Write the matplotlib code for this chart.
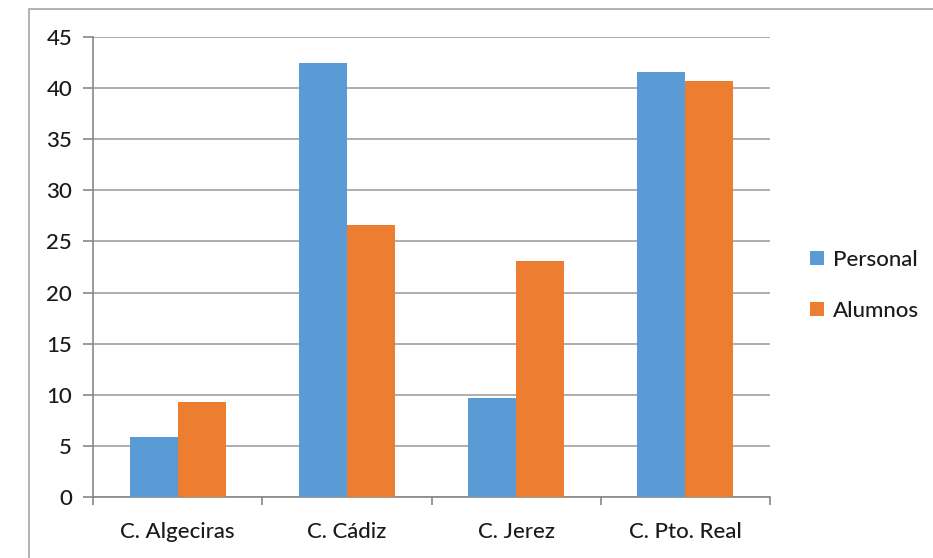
import numpy as np
import matplotlib.pyplot as plt
from matplotlib.patches import Rectangle

categories = ['C. Algeciras', 'C. Cádiz', 'C. Jerez', 'C. Pto. Real']
personal = [5.9, 42.5, 9.7, 41.6]
alumnos = [9.3, 26.6, 23.1, 40.7]
series_names = ['Personal', 'Alumnos']
yticks = [0, 5, 10, 15, 20, 25, 30, 35, 40, 45]

plt.rcParams['font.family'] = ['Lato', 'DejaVu Sans']
plt.rcParams['font.weight'] = 'medium'

fig = plt.figure(figsize=(9.33, 5.58), dpi=100)
fig.patches.append(Rectangle((29 / 933, -0.05), 1.1, 0.05 + (558 - 9) / 558,
                             transform=fig.transFigure, fill=False,
                             edgecolor='#a6a6a6', lw=1.2))
ax = fig.add_axes([93 / 933, 61 / 558, 677 / 933, 460 / 558])

x = np.arange(len(categories))
w = 0.284
ax.bar(x - w / 2, personal, w, color='#5b9bd5', label=series_names[0], zorder=3)
ax.bar(x + w / 2, alumnos, w, color='#ed7d31', label=series_names[1], zorder=3)

ax.set_xlim(-0.5, len(categories) - 0.5)
ax.set_ylim(0, 45)
ax.set_yticks(yticks)
ax.set_xticks(x)
ax.set_xticklabels(categories, fontsize=16)
ax.tick_params(axis='x', length=0, pad=18, labelcolor='#1a1a1a')
ax.set_xticks(np.arange(len(categories) + 1) - 0.5, minor=True)
ax.tick_params(axis='x', which='minor', length=6, color='#888888', width=1.2)
ax.tick_params(axis='y', labelsize=16, length=7, color='#888888', width=1.2,
               pad=8, labelcolor='#1a1a1a')
ax.grid(axis='y', color='#a0a0a0', lw=1.2, zorder=0)
for s in ['top', 'right']:
    ax.spines[s].set_visible(False)
for s in ['left', 'bottom']:
    ax.spines[s].set_color('#888888')
    ax.spines[s].set_linewidth(1.2)

leg = ax.legend(loc='center left', bbox_to_anchor=(1.03, 0.46), frameon=False,
                fontsize=16, handlelength=0.6, handleheight=0.6,
                handletextpad=0.4, labelspacing=1.4)
for t in leg.get_texts():
    t.set_color('#1a1a1a')

fig.savefig('out.png', dpi=100)
